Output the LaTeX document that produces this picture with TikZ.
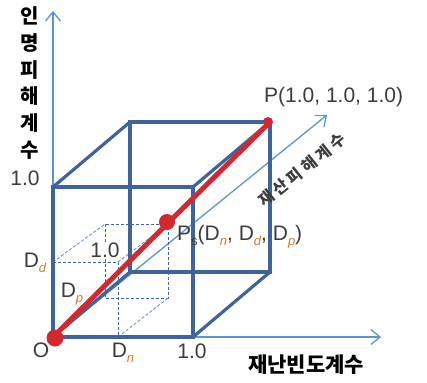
\documentclass[tikz,border=0pt]{standalone}
\usepackage{fontspec}
\setmainfont{Liberation Sans}
\newfontfamily\kr{Noto Sans CJK KR}
\usetikzlibrary{arrows.meta}
\definecolor{cube}{RGB}{62,100,160}
\definecolor{axis}{RGB}{91,150,212}
\definecolor{redl}{RGB}{212,40,48}
\definecolor{txt}{RGB}{60,60,60}
\definecolor{sub}{RGB}{205,125,40}
\newcommand{\sbs}[1]{\raisebox{-0.45ex}{\fontsize{13}{13}\selectfont\itshape\color{sub}#1}}
\newcommand{\sbn}[1]{\raisebox{-0.45ex}{\fontsize{13}{13}\selectfont #1}}
\begin{document}
\begin{tikzpicture}[x=1pt,y=-1pt,
  axisline/.style={draw=axis,line width=1.3pt},
  axistip/.style={-{Straight Barb[length=9pt,width=15pt,line width=1.3pt]}},
  cubeline/.style={draw=cube,line width=3.2pt,line cap=round},
  dashline/.style={draw=cube,line width=0.9pt,dashed,dash pattern=on 3pt off 2pt},
  dashthin/.style={draw=axis,line width=0.9pt,dashed,dash pattern=on 3pt off 2pt},
  redline/.style={draw=redl,line width=5pt},
  dot/.style={circle,fill=redl,inner sep=0pt,minimum size=#1},
  lab/.style={text=txt,font=\fontsize{21}{21}\selectfont,inner sep=0pt},
  krlab/.style={text=black,font=\kr\bfseries\fontsize{21}{21}\selectfont,inner sep=0pt}]
\useasboundingbox (0,0) rectangle (427,382);
% coordinates
\coordinate (O) at (53,337);
\coordinate (A) at (193,337);
\coordinate (B) at (193,187);
\coordinate (C) at (53,187);
\coordinate (O2) at (130,272);
\coordinate (A2) at (270,272);
\coordinate (B2) at (270,122);
\coordinate (C2) at (130,122);
\coordinate (Yend) at (53,11);
\coordinate (Xend) at (381,337);
\coordinate (Zend) at (327,115);
% dashed cube
\coordinate (d1) at (118,337);
\coordinate (d2) at (118,262);
\coordinate (d3) at (53,262);
\coordinate (e0) at (105,298);
\coordinate (e1) at (168,298);
\coordinate (e2) at (168,224);
\coordinate (e3) at (105,224);
% axes
\draw[axisline,axistip] (O) -- (Yend);
\draw[axisline,axistip] (O) -- (Xend);
\draw[axisline,axistip] (O) -- (Zend);
% dashed small cube
\draw[dashline] (d3) -- (d2) -- (d1);
\draw[dashline] (e3) rectangle (e1);
\draw[dashthin] (d3) -- (e3);
\draw[dashthin] (d2) -- (e2);
\draw[dashthin] (d1) -- (e1);
% big cube
\draw[cubeline] (C2) rectangle (A2);
\draw[cubeline] (O) -- (O2);
\draw[cubeline] (A) -- (A2);
\draw[cubeline] (B) -- (B2);
\draw[cubeline] (C) -- (C2);
\draw[cubeline] (C) rectangle (A);
% red line
\draw[redline] (O) -- (B2);
\node[dot=17pt] (Odot) at (55,338) {};
\node[dot=16pt] (Psdot) at (167,222) {};
\node[dot=10pt] (Pdot) at (268,122) {};
% labels
\node[lab] (l10y) at (25,178) {1.0};
\node[lab] (lDd) at (35,263) {D\sbs{d}};
\node[lab] (lDp) at (72,294) {D\sbs{p}};
\node[lab,fill=white,inner sep=1pt] (l10i) at (105,250) {1.0};
\node[lab] (lO) at (41,350) {O};
\node[lab] (lDn) at (123,353) {D\sbs{n}};
\node[lab] (l10x) at (192,351) {1.0};
\node[lab,anchor=west] (lPs) at (177,237) {P\sbn{s}(D\sbs{n}, D\sbs{d}, D\sbs{p})};
\node[lab,anchor=west] (lP) at (264,97) {P(1.0, 1.0, 1.0)};
\node[krlab] (lx) at (306,365) {재난빈도계수};
\node[text=txt,font=\kr\bfseries\fontsize{16}{16}\selectfont,inner sep=0pt,rotate=39] (lz) at (302,170) {재\hspace{3.5pt}산\hspace{3.5pt}피\hspace{3.5pt}해\hspace{3.5pt}계\hspace{3.5pt}수};
\foreach \ch [count=\i] in {인,명,피,해,계,수} {
  \node[krlab,font=\kr\bfseries\fontsize{20}{20}\selectfont] (ly\i) at (30,{16+26.8*(\i-1)}) {\ch};
}
\end{tikzpicture}
\end{document}
